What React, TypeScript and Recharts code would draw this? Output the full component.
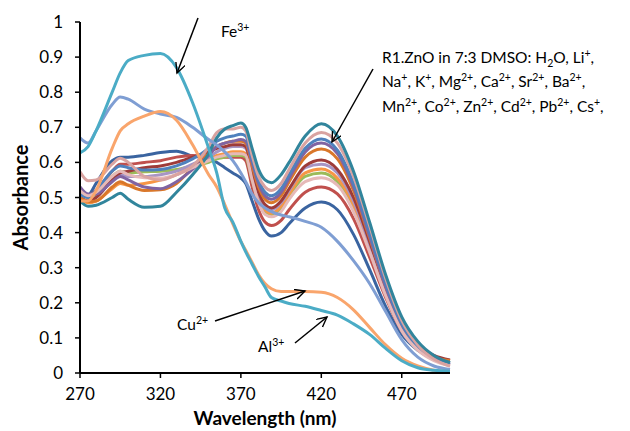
import { LineChart, Line, XAxis, YAxis } from 'recharts';

const WAVELENGTHS = [270, 275, 280, 290, 295, 300, 310, 320, 330, 340, 350, 355, 360, 365, 370, 373, 377, 381, 385, 389, 395, 400, 410, 420, 430, 440, 450, 460, 470, 480, 490, 500];

const X_TICKS = [270, 320, 370, 420, 470];
const Y_TICKS = [0, 0.1, 0.2, 0.3, 0.4, 0.5, 0.6, 0.7, 0.8, 0.9, 1];

// cluster: R1.ZnO + the non-responding ions
const DARK_TEAL = [0.49, 0.475, 0.478, 0.5, 0.512, 0.495, 0.472, 0.475, 0.515, 0.565, 0.625, 0.67, 0.695, 0.705, 0.712, 0.7, 0.64, 0.58, 0.55, 0.542, 0.565, 0.6, 0.675, 0.71, 0.675, 0.575, 0.43, 0.28, 0.16, 0.09, 0.05, 0.03];
const PINK = [0.573, 0.548, 0.55, 0.595, 0.612, 0.6, 0.56, 0.55, 0.565, 0.59, 0.645, 0.685, 0.695, 0.695, 0.7, 0.69, 0.62, 0.56, 0.53, 0.52, 0.54, 0.58, 0.655, 0.685, 0.655, 0.56, 0.42, 0.27, 0.15, 0.08, 0.04, 0.02];
const BLUE = [0.51, 0.5, 0.52, 0.575, 0.59, 0.585, 0.578, 0.58, 0.59, 0.61, 0.64, 0.66, 0.67, 0.675, 0.68, 0.675, 0.61, 0.55, 0.515, 0.505, 0.525, 0.565, 0.64, 0.667, 0.635, 0.54, 0.4, 0.255, 0.14, 0.075, 0.04, 0.025];
const PURPLE = [0.53, 0.51, 0.51, 0.545, 0.56, 0.55, 0.53, 0.525, 0.545, 0.58, 0.62, 0.645, 0.655, 0.66, 0.665, 0.66, 0.6, 0.54, 0.505, 0.495, 0.515, 0.555, 0.63, 0.655, 0.625, 0.53, 0.39, 0.245, 0.135, 0.07, 0.04, 0.025];
const DARK_ORANGE = [0.5, 0.488, 0.49, 0.53, 0.545, 0.535, 0.52, 0.522, 0.54, 0.585, 0.625, 0.645, 0.655, 0.66, 0.66, 0.655, 0.59, 0.53, 0.495, 0.485, 0.505, 0.545, 0.615, 0.638, 0.61, 0.52, 0.385, 0.245, 0.135, 0.075, 0.045, 0.035];
const DARK_RED = [0.5, 0.49, 0.5, 0.55, 0.57, 0.575, 0.585, 0.59, 0.6, 0.615, 0.63, 0.64, 0.645, 0.65, 0.65, 0.645, 0.575, 0.515, 0.48, 0.47, 0.49, 0.525, 0.59, 0.607, 0.58, 0.5, 0.375, 0.245, 0.14, 0.08, 0.05, 0.037];
const LIGHT_PURPLE = [0.505, 0.49, 0.5, 0.55, 0.565, 0.56, 0.56, 0.565, 0.575, 0.595, 0.615, 0.63, 0.64, 0.645, 0.645, 0.64, 0.575, 0.51, 0.475, 0.465, 0.485, 0.52, 0.585, 0.595, 0.57, 0.49, 0.365, 0.235, 0.13, 0.07, 0.04, 0.025];
const ORANGE = [0.495, 0.485, 0.49, 0.525, 0.54, 0.535, 0.54, 0.55, 0.565, 0.59, 0.61, 0.62, 0.625, 0.63, 0.63, 0.625, 0.56, 0.5, 0.465, 0.455, 0.475, 0.51, 0.57, 0.581, 0.555, 0.48, 0.36, 0.23, 0.13, 0.075, 0.045, 0.035];
const GREEN = [0.51, 0.5, 0.51, 0.56, 0.575, 0.57, 0.573, 0.575, 0.58, 0.59, 0.6, 0.61, 0.615, 0.62, 0.62, 0.615, 0.55, 0.49, 0.458, 0.45, 0.47, 0.505, 0.56, 0.57, 0.545, 0.47, 0.35, 0.225, 0.125, 0.07, 0.04, 0.03];
const LIGHT_PINK = [0.52, 0.505, 0.515, 0.56, 0.575, 0.565, 0.556, 0.555, 0.565, 0.585, 0.605, 0.615, 0.62, 0.625, 0.625, 0.62, 0.55, 0.485, 0.452, 0.445, 0.46, 0.495, 0.545, 0.556, 0.535, 0.46, 0.345, 0.22, 0.12, 0.065, 0.035, 0.02];
const RED = [0.52, 0.505, 0.52, 0.575, 0.595, 0.595, 0.6, 0.605, 0.615, 0.62, 0.615, 0.615, 0.615, 0.615, 0.615, 0.605, 0.53, 0.465, 0.43, 0.42, 0.435, 0.465, 0.515, 0.53, 0.51, 0.44, 0.33, 0.215, 0.12, 0.07, 0.045, 0.035];
const DARK_BLUE = [0.5, 0.505, 0.54, 0.605, 0.615, 0.615, 0.62, 0.628, 0.632, 0.618, 0.61, 0.6, 0.585, 0.57, 0.555, 0.54, 0.49, 0.44, 0.405, 0.39, 0.4, 0.425, 0.47, 0.487, 0.465, 0.395, 0.295, 0.19, 0.11, 0.065, 0.04, 0.03];

// responding ions
const LIGHT_BLUE = [0.67, 0.655, 0.69, 0.765, 0.786, 0.78, 0.752, 0.738, 0.728, 0.7, 0.665, 0.65, 0.63, 0.605, 0.57, 0.545, 0.51, 0.485, 0.47, 0.46, 0.45, 0.445, 0.432, 0.415, 0.375, 0.32, 0.255, 0.175, 0.095, 0.045, 0.02, 0.01];
const CU = [0.49, 0.49, 0.52, 0.64, 0.69, 0.71, 0.732, 0.745, 0.72, 0.65, 0.565, 0.53, 0.48, 0.425, 0.375, 0.35, 0.315, 0.28, 0.255, 0.24, 0.232, 0.232, 0.232, 0.23, 0.215, 0.18, 0.13, 0.08, 0.042, 0.02, 0.008, 0.003];
const FE = [0.627, 0.645, 0.69, 0.8, 0.855, 0.89, 0.905, 0.91, 0.87, 0.77, 0.64, 0.57, 0.47, 0.43, 0.375, 0.345, 0.31, 0.275, 0.245, 0.215, 0.205, 0.198, 0.19, 0.178, 0.165, 0.14, 0.11, 0.07, 0.035, 0.015, 0.008, 0.005];

const SERIES = [
  { key: 'darkBlue', values: DARK_BLUE, color: '#3A64A0' },
  { key: 'red', values: RED, color: '#C0504D' },
  { key: 'green', values: GREEN, color: '#9BBB59' },
  { key: 'orange', values: ORANGE, color: '#F79646' },
  { key: 'lightPurple', values: LIGHT_PURPLE, color: '#A795C4' },
  { key: 'darkRed', values: DARK_RED, color: '#9E3B39' },
  { key: 'darkOrange', values: DARK_ORANGE, color: '#D9772A' },
  { key: 'purple', values: PURPLE, color: '#8064A2' },
  { key: 'blue', values: BLUE, color: '#4F81BD' },
  { key: 'lightPink', values: LIGHT_PINK, color: '#E6B9B8' },
  { key: 'pink', values: PINK, color: '#D9A3A1' },
  { key: 'darkTeal', values: DARK_TEAL, color: '#31859C' },
  { key: 'lightBlue', values: LIGHT_BLUE, color: '#7F9ED3' },
  { key: 'cu', values: CU, color: '#F9A56C' },
  { key: 'fe', values: FE, color: '#4BACC6' },
];

const data = WAVELENGTHS.map((w, i) => {
  const row: Record<string, number> = { w };
  SERIES.forEach((s) => {
    row[s.key] = s.values[i];
  });
  return row;
});

const FONT = 'Lato, "Open Sans", sans-serif';

function Annotations() {
  const sup = { fontSize: 10.5 };
  return (
    <svg
      width={622}
      height={423}
      style={{ position: 'absolute', left: 0, top: 0, pointerEvents: 'none', overflow: 'visible' }}
    >
      <defs>
        <marker id="head" markerWidth="12" markerHeight="12" refX="10" refY="5" orient="auto" markerUnits="userSpaceOnUse">
          <path d="M0,0 L10,5 L0,10" fill="none" stroke="#000" strokeWidth={1.4} />
        </marker>
      </defs>
      <g transform="translate(-8,-8)" fontFamily={FONT} fontSize={15.5} fill="#000">
        <text x={221} y={37}>
          Fe<tspan dy={-6} style={sup}>3+</tspan>
        </text>
        <line x1={198} y1={18} x2={177} y2={73} stroke="#000" strokeWidth={1.5} markerEnd="url(#head)" />

        <text x={382} y={63}>
          R1.ZnO in 7:3 DMSO: H<tspan dy={4} style={sup}>2</tspan><tspan dy={-4}>O, Li</tspan><tspan dy={-6} style={sup}>+</tspan><tspan dy={6}>,</tspan>
        </text>
        <text x={382} y={87}>
          Na<tspan dy={-6} style={sup}>+</tspan><tspan dy={6}>, K</tspan><tspan dy={-6} style={sup}>+</tspan><tspan dy={6}>, Mg</tspan><tspan dy={-6} style={sup}>2+</tspan><tspan dy={6}>, Ca</tspan><tspan dy={-6} style={sup}>2+</tspan><tspan dy={6}>, Sr</tspan><tspan dy={-6} style={sup}>2+</tspan><tspan dy={6}>, Ba</tspan><tspan dy={-6} style={sup}>2+</tspan><tspan dy={6}>,</tspan>
        </text>
        <text x={382} y={112}>
          Mn<tspan dy={-6} style={sup}>2+</tspan><tspan dy={6}>, Co</tspan><tspan dy={-6} style={sup}>2+</tspan><tspan dy={6}>, Zn</tspan><tspan dy={-6} style={sup}>2+</tspan><tspan dy={6}>, Cd</tspan><tspan dy={-6} style={sup}>2+</tspan><tspan dy={6}>, Pb</tspan><tspan dy={-6} style={sup}>2+</tspan><tspan dy={6}>, Cs</tspan><tspan dy={-6} style={sup}>+</tspan><tspan dy={6}>,</tspan>
        </text>
        <line x1={373} y1={69} x2={332} y2={142} stroke="#000" strokeWidth={1.5} markerEnd="url(#head)" />

        <text x={177} y={330}>
          Cu<tspan dy={-6} style={sup}>2+</tspan>
        </text>
        <line x1={215} y1={321} x2={305} y2={291} stroke="#000" strokeWidth={1.5} markerEnd="url(#head)" />

        <text x={258} y={352}>
          Al<tspan dy={-6} style={sup}>3+</tspan>
        </text>
        <line x1={295} y1={343} x2={327} y2={317} stroke="#000" strokeWidth={1.5} markerEnd="url(#head)" />
      </g>
    </svg>
  );
}

export default function App() {
  return (
    <div style={{ position: 'relative', width: 622, height: 423, fontFamily: FONT }}>
      <LineChart width={622} height={423} data={data} margin={{ top: 14, right: 180, bottom: 0, left: 0 }}>
        <XAxis
          dataKey="w"
          type="number"
          domain={[270, 500]}
          ticks={X_TICKS}
          height={58}
          axisLine={{ stroke: '#000', strokeWidth: 2 }}
          tickLine={{ stroke: '#000', strokeWidth: 1.5 }}
          tickSize={5}
          tickMargin={10}
          tick={{ fill: '#000', fontSize: 17, fontFamily: FONT }}
          label={{
            value: 'Wavelength (nm)',
            position: 'insideBottom',
            offset: 6,
            style: { fill: '#000', fontSize: 19, fontWeight: 700, fontFamily: FONT },
          }}
        />
        <YAxis
          type="number"
          domain={[0, 1]}
          ticks={Y_TICKS}
          width={72}
          axisLine={{ stroke: '#000', strokeWidth: 2 }}
          tickLine={{ stroke: '#000', strokeWidth: 1.5 }}
          tickSize={5}
          tickMargin={12}
          tick={{ fill: '#000', fontSize: 17, fontFamily: FONT }}
          label={{
            value: 'Absorbance',
            angle: -90,
            position: 'insideLeft',
            offset: 13,
            style: { textAnchor: 'middle', fill: '#000', fontSize: 20, fontWeight: 700, fontFamily: FONT },
          }}
        />
        {SERIES.map((s) => (
          <Line
            key={s.key}
            dataKey={s.key}
            type="monotone"
            stroke={s.color}
            strokeWidth={3}
            dot={false}
            isAnimationActive={false}
          />
        ))}
      </LineChart>
      <Annotations />
    </div>
  );
}
